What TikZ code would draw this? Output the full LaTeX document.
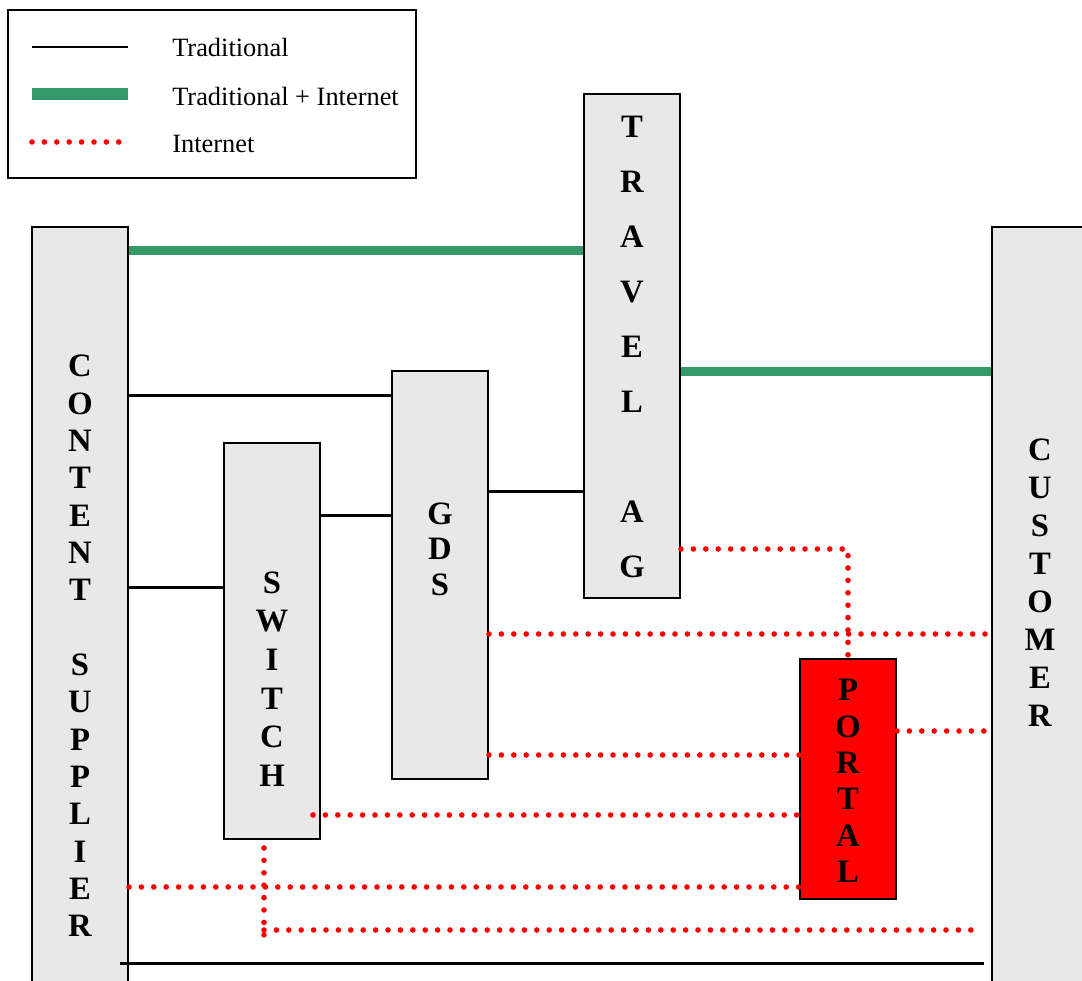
\documentclass[tikz,border=0pt]{standalone}
\usepackage{fontspec}
\setmainfont{Liberation Serif}
\definecolor{boxgray}{HTML}{E8E8E8}
\definecolor{netgreen}{HTML}{339966}
\begin{document}
\begin{tikzpicture}[x=0.75pt,y=-0.75pt,
  unit/.style={draw=black, line width=1.5pt, fill=boxgray, inner sep=0pt, minimum width=72pt},
  portalbox/.style={unit, fill=red},
  letters/.style={align=center, inner sep=0pt, font=\bfseries\fontsize{24.5}{#1}\selectfont},
  trad/.style={draw=black, line width=2.25pt},
  both/.style={draw=netgreen, line width=6.75pt},
  net/.style={draw=red, line width=4.2pt, line cap=round, dash pattern=on 0pt off 9.3pt},
  legtext/.style={anchor=west, inner sep=0pt, font=\fontsize{19.8}{24}\selectfont}]
\useasboundingbox (0,0) rectangle (1082,981);
\clip (0,0) rectangle (1082,981);

% legend
\node[draw=black, line width=1.5pt, minimum width=306pt, minimum height=126pt, inner sep=0pt] (legend) at (212,94) {};
\coordinate (la1) at (32,47);  \coordinate (la2) at (128,47);
\coordinate (lb1) at (32,94);  \coordinate (lb2) at (128,94);
\coordinate (lc1) at (32,142); \coordinate (lc2) at (124,142);
\draw[draw=black, line width=1.5pt] (la1) -- (la2);
\draw[draw=netgreen, line width=9pt] (lb1) -- (lb2);
\draw[net] (lc1) -- (lc2);
\node[legtext] (ltrad) at (172,47) {Traditional};
\node[legtext] (lboth) at (172,96) {Traditional + Internet};
\node[legtext] (lnet) at (172,144) {Internet};

% boxes
\node[unit, minimum height=654.75pt] (cs) at (80,663.5) {};
\node[unit, minimum height=654.75pt] (cust) at (1040,663.5) {};
\node[unit, minimum height=378pt] (travel) at (632,346) {};
\node[unit, minimum height=306pt] (gds) at (440,575) {};
\node[unit, minimum height=297pt] (switch) at (272,641) {};
\node[portalbox, minimum height=180pt] (portal) at (848,779) {};

% vertical lettering
\node[letters=28] (cstext) at (80,646) {C\\O\\N\\T\\E\\N\\T\\\mbox{}\\S\\U\\P\\P\\L\\I\\E\\R};
\node[letters=28.5] (custtext) at (1040,583) {C\\U\\S\\T\\O\\M\\E\\R};
\node[letters=41.25] (traveltext) at (632,347) {T\\R\\A\\V\\E\\L\\\mbox{}\\A\\G};
\node[letters=26.6] (gdstext) at (440,549) {G\\D\\S};
\node[letters=29] (switchtext) at (272,679) {S\\W\\I\\T\\C\\H};
\node[letters=27.3] (portaltext) at (848,781) {P\\O\\R\\T\\A\\L};

% traditional + internet links
\draw[both] (cs.east |- 0,250) -- (travel.west |- 0,250);
\draw[both] (travel.east |- 0,371) -- (cust.west |- 0,371);

% traditional links
\draw[trad] (cs.east |- 0,395) -- (gds.west |- 0,395);
\draw[trad] (cs.east |- 0,587) -- (switch.west |- 0,587);
\draw[trad] (switch.east |- 0,515) -- (gds.west |- 0,515);
\draw[trad] (gds.east |- 0,491) -- (travel.west |- 0,491);
\coordinate (base1) at (120,963);
\coordinate (base2) at (984,963);
\draw[trad] (base1) -- (base2);

% internet links
\draw[net] (travel.east |- 0,549) -| (portal.north);
\draw[net] (gds.east |- 0,634) -- (cust.west |- 0,634);
\draw[net] (portal.east |- 0,731) -- (cust.west |- 0,731);
\draw[net] (gds.east |- 0,755) -- (portal.west |- 0,755);
\draw[net] ([xshift=-6pt]switch.east |- 0,815) -- (portal.west |- 0,815);
\draw[net] (cs.east |- 0,887) -- (portal.west |- 0,887);
\coordinate (sw1) at (264,936);
\coordinate (sw2) at (976,930);
\draw[net] ([yshift=-6pt]switch.south -| sw1) -- (sw1);
\draw[net] (sw1 |- sw2) -- (sw2);
\end{tikzpicture}
\end{document}
